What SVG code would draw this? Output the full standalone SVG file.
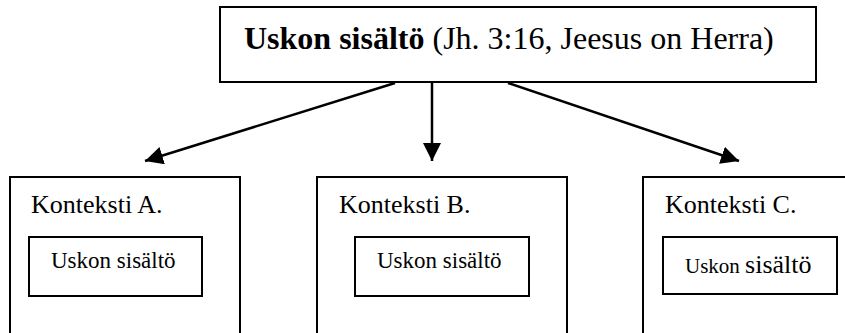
<svg xmlns="http://www.w3.org/2000/svg" width="845" height="333" viewBox="0 0 845 333">
<style>
.box{fill:#fff;stroke:#000;stroke-width:2}
.t{font-family:"Liberation Serif","Times New Roman",serif;fill:#000}
.edge{stroke:#000;stroke-width:2.5;fill:none}
</style>
<defs>
<marker id="ah" markerUnits="userSpaceOnUse" markerWidth="20" markerHeight="18" refX="18" refY="9" orient="auto" viewBox="0 0 20 18">
<path d="M0,0 L18,9 L0,18 Z" fill="#000"/>
</marker>
</defs>
<rect width="845" height="333" fill="#fff"/>
<g id="connectors">
<line class="edge" x1="395" y1="83" x2="145" y2="161" marker-end="url(#ah)"/>
<line class="edge" x1="432" y1="83" x2="432" y2="161" marker-end="url(#ah)"/>
<line class="edge" x1="508" y1="83" x2="739" y2="161" marker-end="url(#ah)"/>
</g>
<g id="top">
<rect class="box" x="220" y="7" width="596" height="75"/>
<text class="t" x="244" y="49" font-size="32"><tspan font-weight="bold">Uskon sisältö</tspan> (Jh. 3:16, Jeesus on Herra)</text>
</g>
<g id="contextA">
<rect class="box" x="10" y="177" width="230" height="170"/>
<text class="t" x="31" y="213" font-size="26">Konteksti A.</text>
<rect class="box" x="29" y="237" width="173" height="59"/>
<text class="t" x="51" y="268" font-size="23">Uskon sisältö</text>
</g>
<g id="contextB">
<rect class="box" x="317" y="177" width="250" height="170"/>
<text class="t" x="339" y="213" font-size="26">Konteksti B.</text>
<rect class="box" x="355" y="237" width="174" height="59"/>
<text class="t" x="377" y="268" font-size="23">Uskon sisältö</text>
</g>
<g id="contextC">
<rect class="box" x="643" y="177" width="210" height="170"/>
<text class="t" x="665" y="213" font-size="26">Konteksti C.</text>
<rect class="box" x="663" y="237" width="174" height="57"/>
<text class="t" x="685" y="273" font-size="21">Uskon <tspan font-size="26">sisältö</tspan></text>
</g>
</svg>
